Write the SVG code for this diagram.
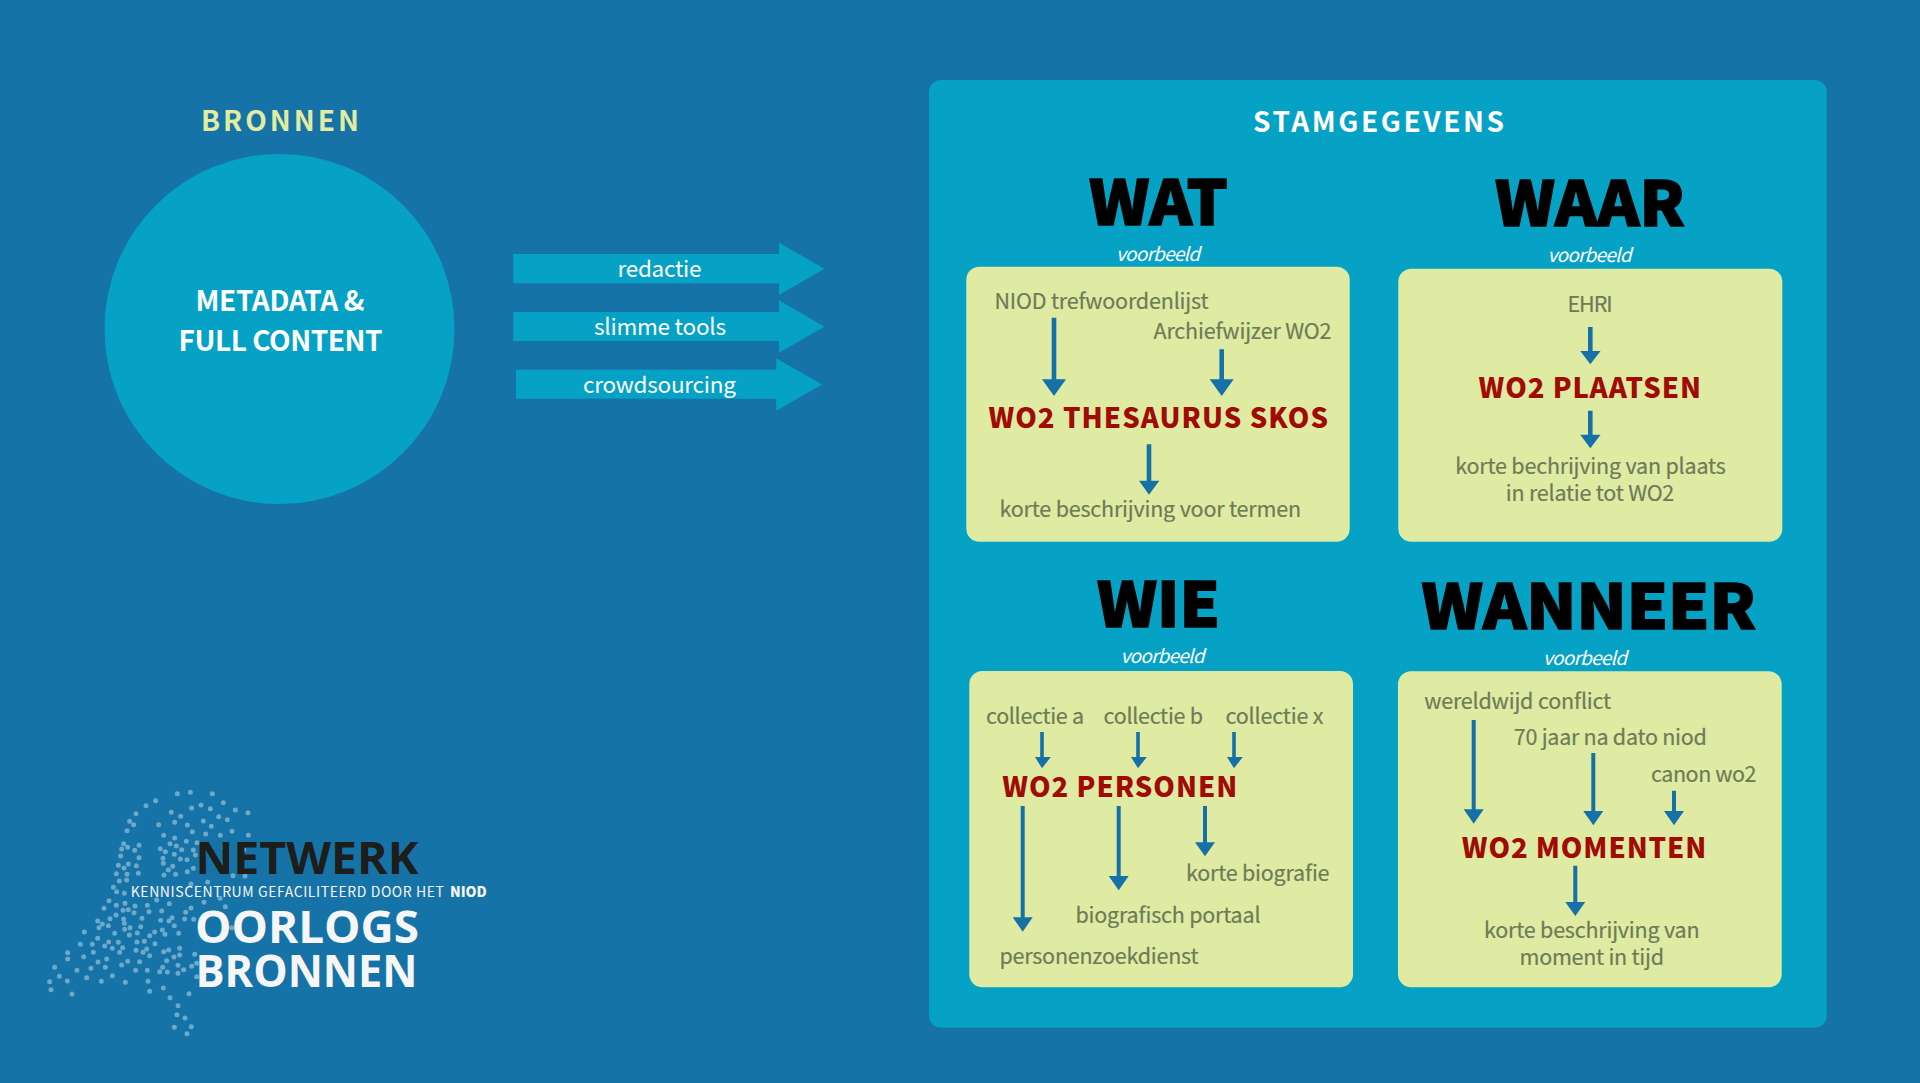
<svg xmlns="http://www.w3.org/2000/svg" width="1920" height="1083" viewBox="0 0 1920 1083">
<defs>
<style>
text{font-family:"Noto Sans CJK SC","Noto Sans",sans-serif}
.bg{fill:#1673a7}
.pn{fill:#05a2c5}
.box{fill:#dfeba3}
.big{font-size:62px;font-weight:900;fill:#000;stroke:#000;stroke-width:1.6}
.vb{font-size:19px;font-style:italic;fill:#fff}
.t{font-size:21.5px;fill:#6e7b57;font-weight:400;stroke:#6e7b57;stroke-width:.2}
.red{font-size:27.5px;font-weight:900;fill:#a00c05}
.w{font-size:22.5px;fill:#fff;font-weight:400}
.h{font-size:28px;font-weight:700;fill:#fff}
.yl{fill:#e2eb9f}
.logo{font-family:"Open Sans","Noto Sans",sans-serif;font-weight:700;font-size:45px}
.sm{font-size:14px;fill:#f6f6f6;font-weight:400}
.ar{fill:#1571a8}
.dots{fill:none;stroke:#6fa9c9;stroke-width:15;stroke-linecap:round}
</style>
</defs>
<rect class="bg" width="1920" height="1083"/>
<g id="logo-dots"><path class="dots" transform="translate(30 770) scale(.33333)" d="M442 71h0M481 67h0M547 71h0M377 92h0M348 107h0M580 98h0M513 105h0M485 114h0M541 116h0M616 120h0M654 128h0M424 127h0M318 131h0M452 139h0M566 140h0M592 149h0M299 154h0M311 164h0M434 157h0M520 153h0M472 165h0M544 169h0M386 164h0M291 182h0M606 184h0M487 185h0M655 196h0M527 192h0M571 196h0M401 196h0M434 204h0M469 214h0M501 218h0M420 221h0M281 221h0M293 232h0M275 237h0M327 226h0M314 241h0M391 236h0M406 245h0M439 228h0M455 239h0M490 240h0M585 234h0M641 239h0M272 258h0M327 263h0M399 265h0M433 253h0M451 267h0M471 269h0M496 255h0M400 280h0M265 286h0M295 282h0M282 294h0M319 287h0M428 289h0M415 300h0M490 295h0M472 305h0M259 311h0M291 313h0M325 310h0M402 315h0M437 313h0M609 317h0M645 318h0M268 333h0M290 330h0M533 336h0M483 342h0M250 352h0M260 365h0M283 370h0M380 390h0M237 392h0M285 400h0M352 406h0M259 406h0M222 415h0M315 408h0M418 401h0M522 397h0M570 385h0M586 410h0M483 414h0M295 419h0M279 421h0M312 428h0M357 425h0M395 423h0M467 427h0M258 435h0M240 446h0M336 445h0M281 447h0M392 451h0M417 453h0M426 443h0M464 447h0M491 448h0M203 453h0M217 462h0M207 473h0M283 460h0M235 467h0M300 473h0M284 478h0M332 470h0M433 467h0M163 486h0M254 490h0M298 495h0M322 489h0M374 486h0M397 480h0M405 493h0M359 497h0M446 490h0M605 473h0M203 505h0M151 523h0M187 523h0M236 516h0M265 517h0M224 528h0M247 535h0M278 533h0M321 516h0M343 514h0M375 521h0M318 541h0M350 537h0M339 547h0M401 545h0M416 540h0M449 535h0M269 547h0M190 547h0M113 548h0M161 560h0M113 567h0M230 567h0M204 576h0M293 574h0M329 575h0M359 557h0M449 555h0M432 561h0M494 553h0M410 572h0M275 585h0M444 586h0M500 580h0M485 589h0M74 592h0M141 601h0M183 595h0M226 592h0M398 592h0M461 599h0M317 601h0M352 601h0M389 605h0M412 606h0M444 610h0M88 619h0M170 623h0M247 617h0M500 620h0M59 635h0M112 633h0M214 634h0M286 637h0M354 634h0M63 659h0M126 672h0M359 664h0M400 654h0M477 671h0M420 683h0M444 707h0M441 734h0M465 744h0M433 772h0M484 770h0M471 791h0"/></g>
<g id="logo-text">
<text class="logo" fill="#1d1d1b" x="195.5" y="874.3" textLength="223" lengthAdjust="spacingAndGlyphs">NETWERK</text>
<text class="sm" x="130.7" y="897" textLength="313.3" lengthAdjust="spacing">KENNISCENTRUM GEFACILITEERD DOOR HET</text>
<text class="sm" style="font-weight:900" x="450" y="897" textLength="36.7" lengthAdjust="spacing">NIOD</text>
<text class="logo" fill="#f6f6f6" x="195" y="943.3" textLength="224" lengthAdjust="spacingAndGlyphs">OORLOGS</text>
<text class="logo" fill="#f6f6f6" x="195.5" y="986.7" textLength="222" lengthAdjust="spacingAndGlyphs">BRONNEN</text>
</g>
<g id="bronnen">
<text class="h yl" x="201" y="131.4" textLength="158" lengthAdjust="spacing">BRONNEN</text>
<circle class="pn" cx="279.5" cy="329" r="175"/>
<text class="h" x="195.5" y="310.6" textLength="169" lengthAdjust="spacing">METADATA &amp;</text>
<text class="h" x="178.5" y="351" textLength="204" lengthAdjust="spacing">FULL CONTENT</text>
</g>
<g id="flow-arrows">
<path class="pn" d="M513.3 254H779V242.7L824.3 268.7 779 295V283.3H513.3Z"/>
<path class="pn" d="M513.3 312H779V300.3L824.3 326.7 779 352.7V341H513.3Z"/>
<path class="pn" d="M516 369.7H776.3V358.3L822 384.5 776.3 410.7V398.7H516Z"/>
<text class="w" x="617.5" y="277" textLength="84" lengthAdjust="spacing">redactie</text>
<text class="w" x="594" y="335.2" textLength="132" lengthAdjust="spacing">slimme tools</text>
<text class="w" x="583" y="392.6" textLength="153" lengthAdjust="spacing">crowdsourcing</text>
</g>
<g id="stamgegevens">
<rect class="pn" x="929" y="80" width="897.7" height="947.7" rx="12"/>
<text class="h" x="1253" y="132" textLength="251" lengthAdjust="spacing">STAMGEGEVENS</text>
</g>
<g id="wat">
<text class="big" x="1089" y="225" textLength="139" lengthAdjust="spacingAndGlyphs">WAT</text>
<text class="vb" x="1116" y="261" textLength="84" lengthAdjust="spacing">voorbeeld</text>
<rect class="box" x="966.3" y="266.7" width="383.4" height="275" rx="13"/>
<text class="t" x="994.5" y="308.5" textLength="214" lengthAdjust="spacing">NIOD trefwoordenlijst</text>
<text class="t" x="1153.5" y="339" textLength="178" lengthAdjust="spacing">Archiefwijzer WO2</text>
<text class="red" x="988.5" y="428" textLength="339.5" lengthAdjust="spacing">WO2 THESAURUS SKOS</text>
<text class="t" x="999.5" y="517" textLength="301.5" lengthAdjust="spacing">korte beschrijving voor termen</text>
</g>
<g id="waar">
<text class="big" x="1495" y="226" textLength="190" lengthAdjust="spacingAndGlyphs">WAAR</text>
<text class="vb" x="1547.5" y="262.4" textLength="84" lengthAdjust="spacing">voorbeeld</text>
<rect class="box" x="1398.3" y="268.7" width="384" height="273" rx="13"/>
<text class="t" x="1567.5" y="311.8" textLength="45" lengthAdjust="spacing">EHRI</text>
<text class="red" x="1478.5" y="398" textLength="222.5" lengthAdjust="spacing">WO2 PLAATSEN</text>
<text class="t" x="1455.2" y="473.8" textLength="270.5" lengthAdjust="spacing">korte bechrijving van plaats</text>
<text class="t" x="1505.8" y="501" textLength="168.5" lengthAdjust="spacing">in relatie tot WO2</text>
</g>
<g id="wie">
<text class="big" x="1097" y="627" textLength="123" lengthAdjust="spacingAndGlyphs">WIE</text>
<text class="vb" x="1120.5" y="662.6" textLength="84" lengthAdjust="spacing">voorbeeld</text>
<rect class="box" x="969.3" y="671" width="383.7" height="316.3" rx="13"/>
<text class="t" x="986" y="723.6" textLength="98" lengthAdjust="spacing">collectie a</text>
<text class="t" x="1103.5" y="723.6" textLength="99.5" lengthAdjust="spacing">collectie b</text>
<text class="t" x="1225.5" y="723.6" textLength="98" lengthAdjust="spacing">collectie x</text>
<text class="red" x="1002.2" y="796.5" textLength="235" lengthAdjust="spacing">WO2 PERSONEN</text>
<text class="t" x="1186" y="881" textLength="143.5" lengthAdjust="spacing">korte biografie</text>
<text class="t" x="1075.5" y="923" textLength="185" lengthAdjust="spacing">biografisch portaal</text>
<text class="t" x="999.5" y="964" textLength="199" lengthAdjust="spacing">personenzoekdienst</text>
</g>
<g id="wanneer">
<text class="big" x="1421.5" y="629" textLength="334.5" lengthAdjust="spacingAndGlyphs">WANNEER</text>
<text class="vb" x="1543" y="664.6" textLength="84" lengthAdjust="spacing">voorbeeld</text>
<rect class="box" x="1398" y="671.3" width="383.7" height="316" rx="13"/>
<text class="t" x="1424.2" y="708.8" textLength="187" lengthAdjust="spacing">wereldwijd conflict</text>
<text class="t" x="1513.8" y="745.2" textLength="193" lengthAdjust="spacing">70 jaar na dato niod</text>
<text class="t" x="1651" y="782.2" textLength="105.5" lengthAdjust="spacing">canon wo2</text>
<text class="red" x="1461.8" y="858" textLength="244.5" lengthAdjust="spacing">WO2 MOMENTEN</text>
<text class="t" x="1484" y="937.8" textLength="215.5" lengthAdjust="spacing">korte beschrijving van</text>
<text class="t" x="1519.5" y="965.2" textLength="144.5" lengthAdjust="spacing">moment in tijd</text>
</g>
<g id="connectors" class="ar">
<path d="M1051.7 317.7h4.6v61.6h9.7L1054 396 1042 379.3h9.7Z"/>
<path d="M1219.4 349.3h4.6v30h9.7L1221.7 396 1209.7 379.3h9.7Z"/>
<path d="M1146.7 444.3h4.6v36.4h8L1149 494.7 1139 480.7h7.7Z"/>
<path d="M1588 327h4.6v24h8L1590.3 364.3 1580.3 351h7.7Z"/>
<path d="M1588 410.7h4.6v24h8L1590.3 448.3 1580.3 434.7h7.7Z"/>
<path d="M1040.2 732h3.6v25h7L1042 768.3 1035 757h5.2Z"/>
<path d="M1136.2 732h3.6v25h7L1138 768.3 1131 757h5.2Z"/>
<path d="M1232.2 732h3.6v25h7L1234 768.3 1227 757h5.2Z"/>
<path d="M1020.7 806h4v111.3h8L1022.7 931.7 1012.7 917.3h8Z"/>
<path d="M1116.7 806h4v70h8L1118.7 890.3 1108.7 876h8Z"/>
<path d="M1203 806h4v36.3h8L1205 856.3 1195 842.3h8Z"/>
<path d="M1471.7 720h4v89.3h8L1473.7 823.7 1463.7 809.3h8Z"/>
<path d="M1591.3 753h4v58h8L1593.3 825.3 1583.3 811h8Z"/>
<path d="M1672 790.7h4V811h8L1674 825.3 1664 811h8Z"/>
<path d="M1573.3 865.7h4V902h8L1575.3 916 1565.3 902h8Z"/>
</g>
</svg>
